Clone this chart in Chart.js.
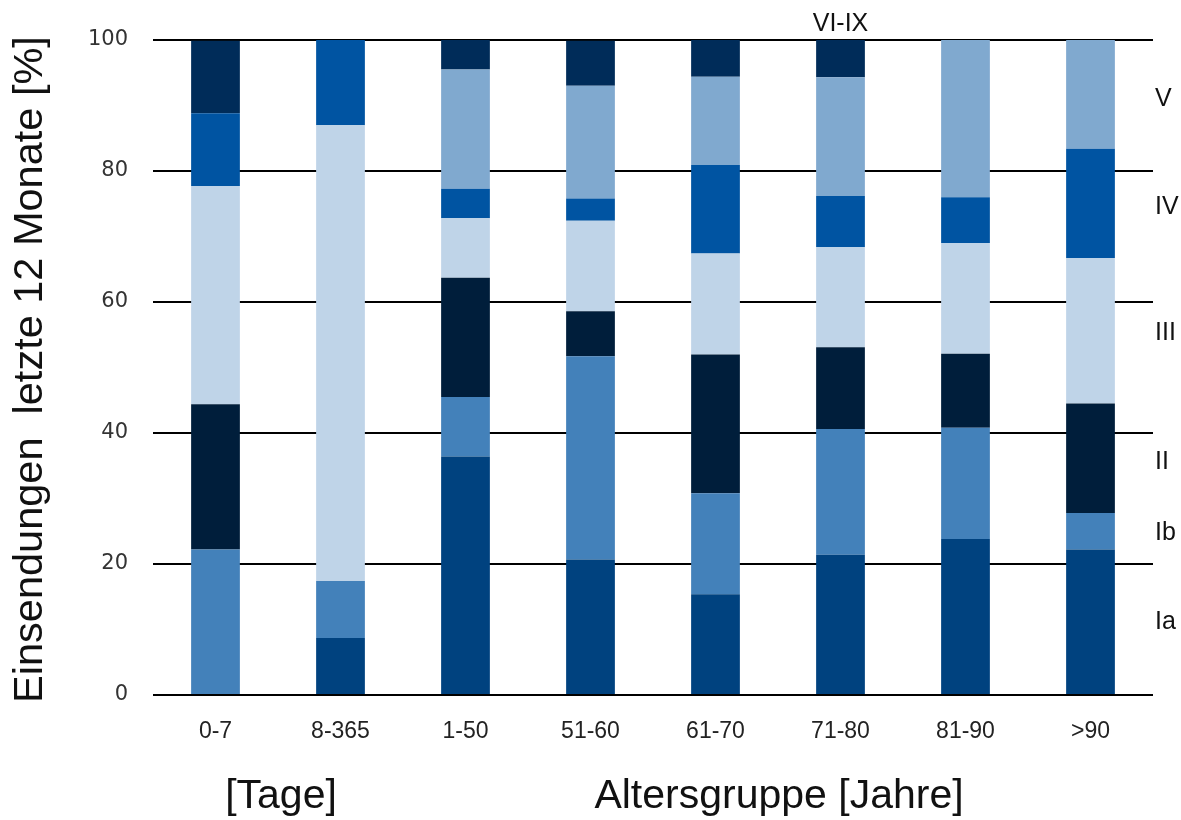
<!DOCTYPE html>
<html>
<head>
<meta charset="utf-8">
<script src="https://cdn.jsdelivr.net/npm/chart.js@4/dist/chart.umd.min.js"></script>
<style>
  html, body { margin: 0; padding: 0; background: #fff; }
  #wrap { width: 1181px; height: 820px; position: relative; }
</style>
</head>
<body>
<div id="wrap"><canvas id="stageChart"></canvas></div>
<script>
// categories (age groups)
var groups = ['0-7', '8-365', '1-50', '51-60', '61-70', '71-80', '81-90', '>90'];

// share of submissions per stage, percent
var stageIa   = [0,    8.7,  36.4, 20.7, 15.4, 21.4, 23.8, 22.2];
var stageIb   = [22.2, 8.7,  9.1,  31.0, 15.4, 19.2, 17.0, 5.6];
var stageII   = [22.2, 0,    18.2, 6.9,  21.2, 12.5, 11.3, 16.7];
var stageIII  = [33.3, 69.6, 9.1,  13.8, 15.4, 15.3, 16.9, 22.2];
var stageIV   = [11.1, 13.0, 4.5,  3.4,  13.5, 7.8,  7.0,  16.7];
var stageV    = [0,    0,    18.2, 17.2, 13.5, 18.1, 24.0, 16.7];
var stageVIIX = [11.1, 0,    4.5,  6.9,  5.8,  5.7,  0,    0];

var yTicks = [0, 20, 40, 60, 80, 100];

var stageNames = ['Ia', 'Ib', 'II', 'III', 'IV', 'V', 'VI-IX'];
var stageColors = ['#00427f', '#4381ba', '#001e3b', '#bfd4e8', '#0054a2', '#80a9cf', '#002c59'];
var stageValues = [stageIa, stageIb, stageII, stageIII, stageIV, stageV, stageVIIX];

var datasets = stageNames.map(function(name, i) {
    return {
        label: name,
        data: stageValues[i],
        backgroundColor: stageColors[i],
        borderWidth: 0,
        barPercentage: 0.39,
        categoryPercentage: 1.0
    };
});

// stage labels on the right side, placed at a y value
var sideLabels = [
    { text: 'V',   y: 91 },
    { text: 'IV',  y: 74.5 },
    { text: 'III', y: 55.3 },
    { text: 'II',  y: 35.6 },
    { text: 'Ib',  y: 24.7 },
    { text: 'Ia',  y: 11.1 }
];

var extraText = {
    id: 'extraText',
    afterDraw: function(chart) {
        var ctx = chart.ctx;
        var area = chart.chartArea;
        var ys = chart.scales.y;
        var xs = chart.scales.x;
        ctx.save();
        ctx.fillStyle = '#111';

        // y axis title
        ctx.save();
        ctx.translate(31, (area.top + area.bottom) / 2 + 2);
        ctx.rotate(-Math.PI / 2);
        ctx.font = '41.5px "Liberation Sans", Arial, sans-serif';
        ctx.textAlign = 'center';
        ctx.textBaseline = 'middle';
        ctx.fillText('Einsendungen  letzte 12 Monate [%]', 0, 0);
        ctx.restore();

        // stage labels right
        ctx.font = '25px "Liberation Sans", Arial, sans-serif';
        ctx.textAlign = 'left';
        ctx.textBaseline = 'middle';
        sideLabels.forEach(function(l) {
            ctx.fillText(l.text, area.right + 2, ys.getPixelForValue(l.y));
        });
        ctx.textAlign = 'center';
        ctx.textBaseline = 'alphabetic';
        ctx.fillText('VI-IX', xs.getPixelForValue(5), area.top - 9);

        // bottom titles
        ctx.font = '41px "Liberation Sans", Arial, sans-serif';
        ctx.fillText('[Tage]', 281, 808);
        ctx.fillText('Altersgruppe [Jahre]', 779, 808);
        ctx.restore();
    }
};

var ctx = document.getElementById('stageChart').getContext('2d');
var stageChart = new Chart(ctx, {
    type: 'bar',
    data: {
        labels: groups,
        datasets: datasets
    },
    options: {
        responsive: true,
        maintainAspectRatio: false,
        animation: false,
        layout: {
            padding: { top: 40, right: 28, bottom: 0, left: 0 }
        },
        plugins: {
            legend: { display: false },
            tooltip: { enabled: false }
        },
        scales: {
            x: {
                stacked: true,
                grid: { display: false },
                border: { display: false },
                ticks: {
                    color: '#222',
                    padding: 15,
                    font: { family: '"Liberation Sans", Arial, sans-serif', size: 23 }
                },
                afterFit: function(scale) { scale.height = 125; }
            },
            y: {
                stacked: true,
                min: 0,
                max: 100,
                afterBuildTicks: function(scale) {
                    scale.ticks = yTicks.map(function(v) { return { value: v }; });
                },
                grid: { color: '#000', lineWidth: 2, drawTicks: false },
                border: { display: false },
                ticks: {
                    color: '#333',
                    padding: 25,
                    font: { family: '"DejaVu Sans", sans-serif', size: 21 }
                },
                afterFit: function(scale) { scale.width = 153; }
            }
        }
    },
    plugins: [extraText]
});
</script>
</body>
</html>
